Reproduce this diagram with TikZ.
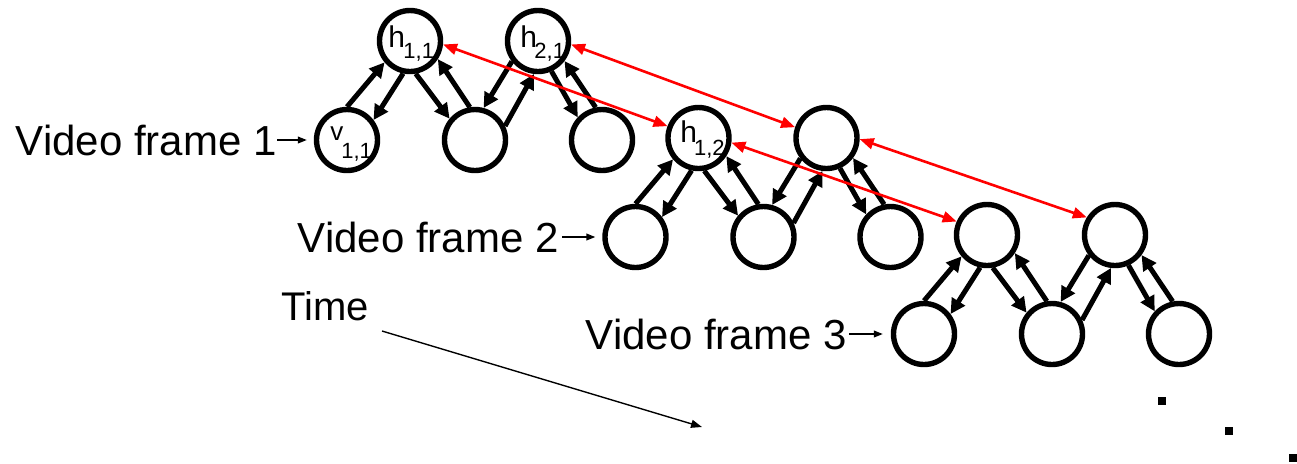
\documentclass[tikz,border=0pt]{standalone}
\usepackage{fontspec}
\setmainfont{Liberation Sans}
\usetikzlibrary{arrows.meta}
\newcommand\cirlab[5]{{\fontsize{#3}{#3}\selectfont #1}\kern#4\raisebox{#5}{\fontsize{11pt}{11pt}\selectfont #2}}
\begin{document}
\begin{tikzpicture}[x=0.5pt,y=-0.5pt,
  circ/.style={circle,draw,line width=2.7pt,minimum size=30.5pt,inner sep=0pt},
  pairarr/.style={line width=2.5pt,-{Triangle[length=7.5pt,width=7.5pt]}},
  redarr/.style={draw=red,line width=1.3pt,{Triangle[length=7pt,width=5.5pt]}-{Triangle[length=7pt,width=5.5pt]},fill=red},
  thinarr/.style={line width=0.7pt,-{Triangle[length=4.5pt,width=3.4pt]}},
  timearr/.style={line width=0.7pt,-{Triangle[length=5.5pt,width=4pt]}},
  lab/.style={inner sep=0pt,font=\fontsize{21pt}{21pt}\selectfont},
  cl/.style={inner sep=0pt,anchor=base west},
  dotsq/.style={fill=black,rectangle,minimum size=4pt,inner sep=0pt}]
\useasboundingbox (0,0) rectangle (1297,463);
\foreach \f/\ox/\oy in {1/0/0,2/288.5/97,3/577/194}{
  \node[circ] (va\f) at (347+\ox,140+\oy) {};
  \node[circ] (vb\f) at (475+\ox,140+\oy) {};
  \node[circ] (vc\f) at (602+\ox,140+\oy) {};
  \node[circ] (ha\f) at (410+\ox,41+\oy) {};
  \node[circ] (hb\f) at (538+\ox,41+\oy) {};
  \draw[pairarr] (va\f.90) -- (ha\f.220);
  \draw[pairarr] (ha\f.258) -- (va\f.37);
  \draw[pairarr] (ha\f.280) -- (vb\f.140);
  \draw[pairarr] (vb\f.99) -- (ha\f.327);
  \draw[pairarr] (hb\f.218) -- (vb\f.75);
  \draw[pairarr] (vb\f.25) -- (hb\f.263);
  \draw[pairarr] (hb\f.294) -- (vc\f.137);
  \draw[pairarr] (vc\f.101) -- (hb\f.323);
}
% texts inside circles
\node[cl] (tv11) at (330,140) {\cirlab{v}{1,1}{13pt}{-1pt}{-9pt}};
\node[cl] (th11) at (388,47) {\cirlab{h}{1,1}{15pt}{-0.8pt}{-5.5pt}};
\node[cl] (th21) at (520,47) {\cirlab{h}{2,1}{15pt}{-1.3pt}{-5.5pt}};
\node[cl] (th12) at (680,142) {\cirlab{h}{1,2}{15pt}{-1.5pt}{-6.5pt}};
% temporal connections
\draw[redarr] (ha1.-6) -- (ha2.159);
\draw[redarr] (hb1.-6) -- (hb2.161);
\draw[redarr] (ha2.-8) -- (ha3.156);
\draw[redarr] (hb2.-2) -- (hb3.148);
% frame labels
\node[lab,anchor=east] (lab1) at (277,140) {Video frame 1};
\node[lab,anchor=east] (lab2) at (559,237) {Video frame 2};
\node[lab,anchor=east] (lab3) at (847,334) {Video frame 3};
\draw[thinarr,shorten >=3.5pt] (lab1.east) -- (va1.west);
\draw[thinarr,shorten <=1.5pt,shorten >=3.5pt] (lab2.east) -- (va2.west);
\draw[thinarr,shorten <=1pt,shorten >=4pt] (lab3.east) -- (va3.west);
% time
\node[lab,anchor=base west,font=\fontsize{20pt}{20pt}\selectfont] (time) at (281,320) {Time};
\coordinate (ts) at (382,331);
\coordinate (te) at (702,427);
\draw[timearr] (ts) -- (te);
% dots
\node[dotsq] (d1) at (1162,401) {};
\node[dotsq] (d2) at (1229,431) {};
\node[dotsq] (d3) at (1293,458) {};
\end{tikzpicture}
\end{document}
